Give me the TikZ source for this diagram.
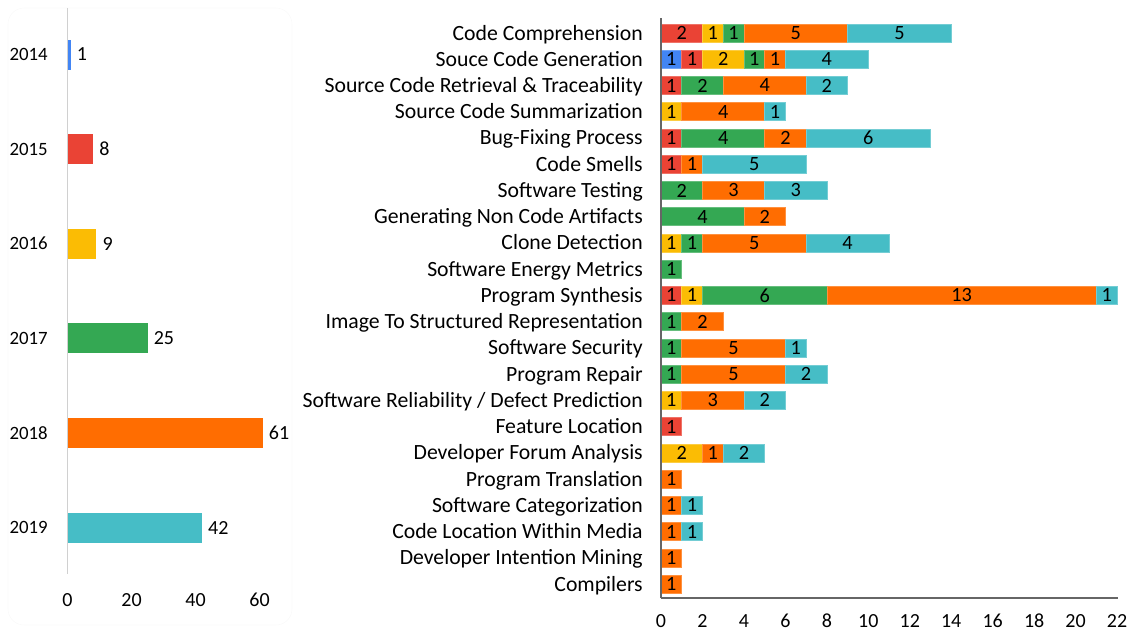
\documentclass[tikz,border=0pt]{standalone}
\usepackage{fontspec}
\setmainfont{Carlito}
\definecolor{colB}{HTML}{4285F4}
\definecolor{colR}{HTML}{EA4335}
\definecolor{colY}{HTML}{FBBC04}
\definecolor{colG}{HTML}{34A853}
\definecolor{colO}{HTML}{FF6D01}
\definecolor{colT}{HTML}{46BDC6}
\definecolor{axisdark}{HTML}{666666}
\definecolor{axislight}{HTML}{D0D0D0}
\begin{document}
\begin{tikzpicture}[x=0.75pt,y=-0.75pt,
  every node/.style={inner sep=0pt},
  catlabel/.style={anchor=base east, font=\fontsize{16.3}{18}\selectfont},
  vallabel/.style={anchor=center, font=\fontsize{15.2}{17}\selectfont},
  ticklabel/.style={anchor=center, font=\fontsize{15}{17}\selectfont},
  yearlabel/.style={anchor=east, font=\fontsize{14.1}{17}\selectfont},
  countlabel/.style={anchor=west, font=\fontsize{15}{17}\selectfont}]
\useasboundingbox (0,0) rectangle (1128,633);
% faint card border of the left chart
\draw[gray!5, rounded corners=12pt] (8,8) rectangle (292,625);
% ---------- left chart ----------
\draw[axislight, line width=0.8pt] (67.5,8) -- (67.5,574);
\foreach \yr/\val/\c [count=\k from 0] in {2014/1/B,2015/8/R,2016/9/Y,2017/25/G,2018/61/O,2019/42/T}{
  \pgfmathsetmacro\yc{54.5+\k*94.6}
  \pgfmathsetmacro\xe{67.5+\val*3.2}
  \fill[col\c] (67.5,\yc-15) rectangle (\xe,\yc+15);
  \node[yearlabel] (yr\k) at (48,\yc) {\yr};
  \node[countlabel] (cnt\k) at (\xe+6,\yc) {\val};
}
\foreach \t [count=\k from 0] in {0,20,40,60}{
  \node[ticklabel] (lt\k) at (67.5+\t*3.2,600) {\t};
}
% ---------- right chart ----------
\foreach \lab/\segs [count=\i from 0] in {
  {Code Comprehension}/{R/2,Y/1,G/1,O/5,T/5},
  {Souce Code Generation}/{B/1,R/1,Y/2,G/1,O/1,T/4},
  {Source Code Retrieval \& Traceability}/{R/1,G/2,O/4,T/2},
  {Source Code Summarization}/{Y/1,O/4,T/1},
  {Bug-Fixing Process}/{R/1,G/4,O/2,T/6},
  {Code Smells}/{R/1,O/1,T/5},
  {Software Testing}/{G/2,O/3,T/3},
  {Generating Non Code Artifacts}/{G/4,O/2},
  {Clone Detection}/{Y/1,G/1,O/5,T/4},
  {Software Energy Metrics}/{G/1},
  {Program Synthesis}/{R/1,Y/1,G/6,O/13,T/1},
  {Image To Structured Representation}/{G/1,O/2},
  {Software Security}/{G/1,O/5,T/1},
  {Program Repair}/{G/1,O/5,T/2},
  {Software Reliability / Defect Prediction}/{Y/1,O/3,T/2},
  {Feature Location}/{R/1},
  {Developer Forum Analysis}/{Y/2,O/1,T/2},
  {Program Translation}/{O/1},
  {Software Categorization}/{O/1,T/1},
  {Code Location Within Media}/{O/1,T/1},
  {Developer Intention Mining}/{O/1},
  {Compilers}/{O/1}}{
  \pgfmathsetmacro\yc{33+\i*26.24}
  \node[catlabel] (cat\i) at (643,\yc+7) {\lab};
  \gdef\acc{0}
  \foreach \c/\v [count=\j] in \segs {
    \pgfmathsetmacro\xa{661+\acc*20.73}
    \pgfmathsetmacro\xb{661+(\acc+\v)*20.73}
    \filldraw[fill=col\c, draw=col\c!75!white, line width=0.4pt] (\xa,\yc-9) rectangle (\xb,\yc+9);
    \node[vallabel] (v\i-\j) at ({(\xa+\xb)/2},\yc) {\v};
    \pgfmathsetmacro\newacc{\acc+\v}
    \xdef\acc{\newacc}
  }
}
\draw[axisdark, line width=1.1pt] (661,18) -- (661,598);
\draw[axisdark, line width=1.1pt] (661,598) -- (1118,598);
\foreach \t [count=\k from 0] in {0,2,...,22}{
  \node[ticklabel] (rt\k) at (661+\t*20.73,621) {\t};
}
\end{tikzpicture}
\end{document}
